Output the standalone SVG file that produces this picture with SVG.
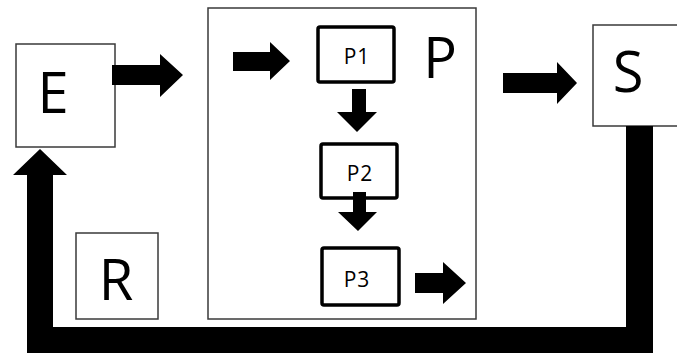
<svg xmlns="http://www.w3.org/2000/svg" width="677" height="354" viewBox="0 0 677 354">
<style>
.thin{fill:#fff;stroke:#3a3a3a;stroke-width:1.5}
.thick{fill:#fff;stroke:#000;stroke-width:3.5}
.big{font-family:"Open Sans","Noto Sans",sans-serif;font-size:56px;fill:#000;text-anchor:middle}
.small{font-family:"Open Sans","Noto Sans",sans-serif;font-size:21px;fill:#000;text-anchor:middle;letter-spacing:1px}
.arr{fill:#000}
</style>
<rect width="677" height="354" fill="#fff"/>
<g id="P">
<rect class="thin" x="208" y="8" width="268" height="311"/>
<text class="big" x="440" y="78">P</text>
</g>
<g id="E"><rect class="thin" x="16" y="44" width="99" height="103"/><text class="big" x="53" y="113">E</text></g>
<g id="S"><rect class="thin" x="593" y="25" width="100" height="101"/><text class="big" x="628" y="92">S</text></g>
<g id="R"><rect class="thin" x="76" y="233" width="82" height="86"/><text class="big" x="116" y="300">R</text></g>
<g id="P1"><rect class="thick" x="318" y="27" width="76" height="55" rx="2"/><text class="small" x="357" y="64">P1</text></g>
<g id="P2"><rect class="thick" x="321" y="144" width="76" height="54" rx="2"/><text class="small" x="360" y="181">P2</text></g>
<g id="P3"><rect class="thick" x="322" y="248" width="77" height="57" rx="2"/><text class="small" x="357" y="287">P3</text></g>
<g id="connectors">
<polygon class="arr" points="112,65 160,65 160,54 183,75 160,97 160,85 112,85"/>
<polygon class="arr" points="233,52 270,52 270,42 290,61 270,80 270,71 233,71"/>
<polygon class="arr" points="352,89 366,89 366,112 377,112 357,132 337,112 352,112"/>
<polygon class="arr" points="353,192 366,192 366,212 377,212 358,231 338,212 353,212"/>
<polygon class="arr" points="415,273 443,273 443,262 466,283 443,304 443,293 415,293"/>
<polygon class="arr" points="503,73 557,73 557,62 577,83 557,104 557,93 503,93"/>
<polygon class="arr" points="626,126 653,126 653,353 27,353 27,175 13,175 40,149 67,175 53,175 53,327 626,327"/>
</g>
</svg>
